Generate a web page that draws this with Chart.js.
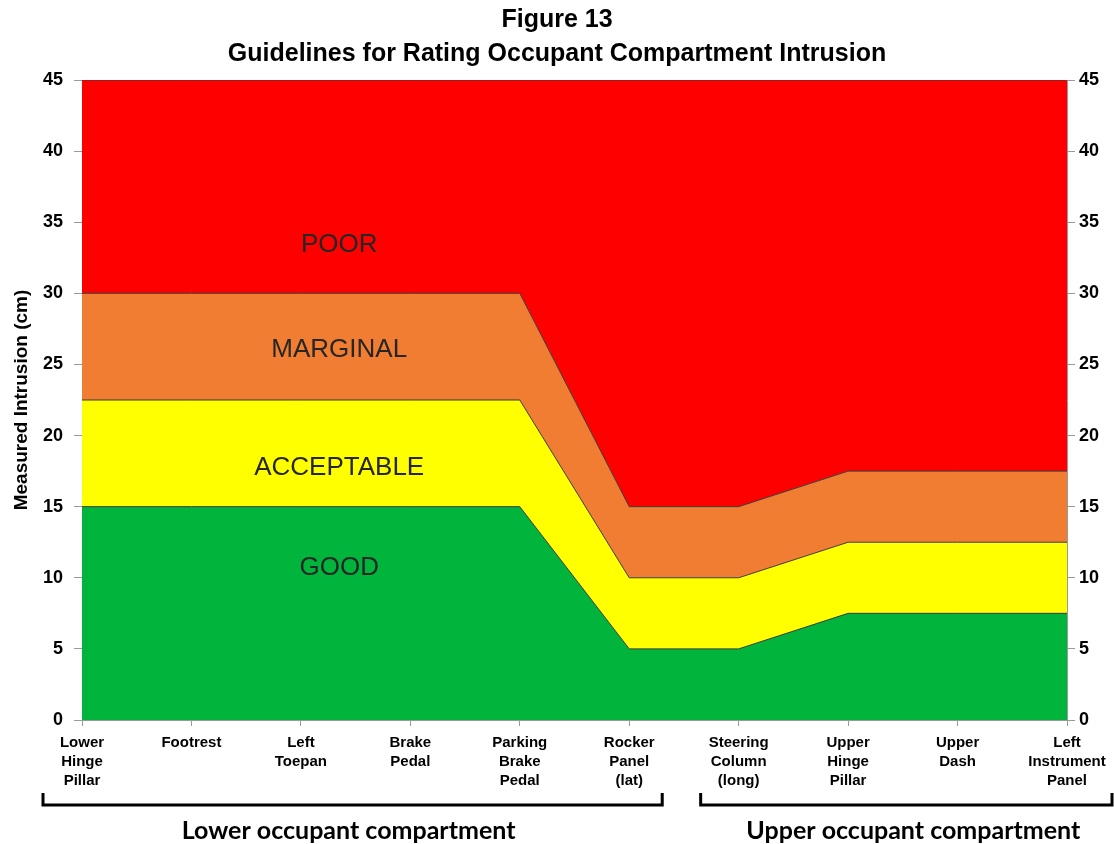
<!DOCTYPE html>
<html>
<head>
<meta charset="utf-8">
<script src="https://cdn.jsdelivr.net/npm/chart.js@4"></script>
<style>
  html, body { margin: 0; padding: 0; background: #fff; }
  #wrap { width: 1114px; height: 844px; position: relative; }
</style>
</head>
<body>
<div id="wrap"><canvas id="grafico"></canvas></div>
<script>
// categorias do eixo x (rótulos em várias linhas)
const categorias = [
  ["Lower", "Hinge", "Pillar"],
  ["Footrest"],
  ["Left", "Toepan"],
  ["Brake", "Pedal"],
  ["Parking", "Brake", "Pedal"],
  ["Rocker", "Panel", "(lat)"],
  ["Steering", "Column", "(long)"],
  ["Upper", "Hinge", "Pillar"],
  ["Upper", "Dash"],
  ["Left", "Instrument", "Panel"],
];

// limites superiores de cada faixa (cm)
const limiteGood       = [15, 15, 15, 15, 15, 5, 5, 7.5, 7.5, 7.5];
const limiteAcceptable = [22.5, 22.5, 22.5, 22.5, 22.5, 10, 10, 12.5, 12.5, 12.5];
const limiteMarginal   = [30, 30, 30, 30, 30, 15, 15, 17.5, 17.5, 17.5];
const limitePoor       = [45, 45, 45, 45, 45, 45, 45, 45, 45, 45];

const nomesFaixas = ["GOOD", "ACCEPTABLE", "MARGINAL", "POOR"];
const coresFaixas = ["#00B43C", "#FFFF00", "#F07D32", "#FF0000"];
// posição (índice da categoria, valor) dos rótulos das faixas
const rotuloX = 2.35;
const rotuloY = [10.7, 17.7, 26, 33.4];

const ticksY = [0, 5, 10, 15, 20, 25, 30, 35, 40, 45];

const grupos = [
  { texto: "Lower occupant compartment", de: 0, ate: 5, ajuste: -4 },
  { texto: "Upper occupant compartment", de: 6, ate: 9, ajuste: 7 },
];

const FONTE = "Arial, 'Liberation Sans', sans-serif";

function faixa(i, dados) {
  return {
    label: nomesFaixas[i],
    data: dados,
    backgroundColor: coresFaixas[i],
    borderColor: "#3a3a3a",
    borderWidth: 1,
    pointRadius: 0,
    tension: 0,
    fill: i === 0 ? "origin" : "-1",
  };
}

const rotulosFaixas = {
  id: "rotulosFaixas",
  afterDatasetsDraw(chart) {
    const { ctx, scales } = chart;
    ctx.save();
    ctx.font = "26px " + FONTE;
    ctx.fillStyle = "#262626";
    ctx.textAlign = "center";
    ctx.textBaseline = "middle";
    nomesFaixas.forEach((n, i) => {
      ctx.fillText(n, scales.x.getPixelForValue(rotuloX), scales.y.getPixelForValue(rotuloY[i]));
    });
    ctx.restore();
  },
};

const colchetes = {
  id: "colchetes",
  afterDraw(chart) {
    const { ctx, scales } = chart;
    const topo = 793, base = 805;
    ctx.save();
    ctx.strokeStyle = "#000";
    ctx.lineWidth = 3;
    grupos.forEach((g, k) => {
      const x0 = scales.x.getPixelForValue(g.de) - (k === 0 ? 39 : 38);
      const x1 = scales.x.getPixelForValue(g.ate) + (k === 0 ? 33 : 45);
      ctx.beginPath();
      ctx.moveTo(x0, topo);
      ctx.lineTo(x0, base);
      ctx.lineTo(x1, base);
      ctx.lineTo(x1, topo);
      ctx.stroke();
      ctx.font = "bold 25px Lato, 'Open Sans', sans-serif";
      ctx.fillStyle = "#000";
      ctx.textAlign = "center";
      ctx.textBaseline = "middle";
      ctx.fillText(g.texto, (x0 + x1) / 2 + g.ajuste, 831);
    });
    ctx.restore();
  },
};

new Chart(document.getElementById("grafico"), {
  type: "line",
  data: {
    labels: categorias,
    datasets: [
      faixa(0, limiteGood),
      faixa(1, limiteAcceptable),
      faixa(2, limiteMarginal),
      faixa(3, limitePoor),
    ],
  },
  options: {
    responsive: true,
    maintainAspectRatio: false,
    animation: false,
    layout: { padding: { top: 0, bottom: 44, left: 0, right: 0 } },
    plugins: {
      legend: { display: false },
      tooltip: { enabled: false },
      title: {
        display: true,
        text: ["Figure 13", "Guidelines for Rating Occupant Compartment Intrusion"],
        color: "#000",
        font: { family: FONTE, size: 25, weight: "bold", lineHeight: 1.36 },
        padding: { top: 3, bottom: 9 },
      },
    },
    scales: {
      x: {
        offset: false,
        grid: { drawOnChartArea: false, drawTicks: true, tickLength: 6, color: "#999" },
        border: { color: "#999" },
        ticks: {
          color: "#000",
          maxRotation: 0,
          autoSkip: false,
          padding: 7,
          font: { family: FONTE, size: 15, weight: "bold", lineHeight: 1.27 },
        },
        afterFit(s) { s.height = 80; },
      },
      y: {
        position: "left",
        min: 0,
        max: 45,
        afterBuildTicks(s) { s.ticks = ticksY.map((v) => ({ value: v })); },
        grid: { drawOnChartArea: false, drawTicks: true, tickLength: 8, color: "#999" },
        border: { color: "#999" },
        ticks: { color: "#000", padding: 11, font: { family: FONTE, size: 18, weight: "bold" } },
        title: {
          display: true,
          text: "Measured Intrusion (cm)",
          color: "#000",
          font: { family: FONTE, size: 19, weight: "bold" },
          padding: { top: 10, bottom: 4 },
        },
        afterFit(s) { s.width = 82; },
      },
      y2: {
        position: "right",
        min: 0,
        max: 45,
        afterBuildTicks(s) { s.ticks = ticksY.map((v) => ({ value: v })); },
        grid: { drawOnChartArea: false, drawTicks: true, tickLength: 8, color: "#999" },
        border: { color: "#999" },
        ticks: { color: "#000", padding: 4, font: { family: FONTE, size: 18, weight: "bold" } },
        afterFit(s) { s.width = 47; },
      },
    },
  },
  plugins: [rotulosFaixas, colchetes],
});
</script>
</body>
</html>
